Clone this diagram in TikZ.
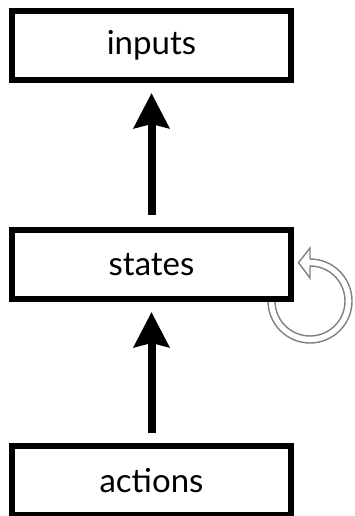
\documentclass[tikz,border=0pt]{standalone}
\usepackage{fontspec}
\setmainfont{Lato}
\usetikzlibrary{arrows.meta,calc}

\tikzset{
  stagebox/.style={draw=black, line width=6pt, fill=white, inner sep=0pt,
    minimum width=279pt, minimum height=69pt, font=\fontsize{33}{38}\selectfont},
  flowarrow/.style={line width=8pt,
    -{Stealth[length=35pt, width=35pt, inset=4pt]}},
  loopoutline/.style={draw=black!50, line width=1.4pt, fill=white, line join=miter}
}

\begin{document}
\begin{tikzpicture}[x=1pt, y=1pt]
  \useasboundingbox (0,0) rectangle (354,516);

  % stage boxes (positions only; the self-loop sits beneath the middle box)
  \coordinate (statesc) at (151.5,251.5);
  \coordinate (loopc) at ($(statesc)+(158.5,-36.5)$);

  % hollow circular self-loop arrow on the right of "states"
  \path[loopoutline]
    ([shift={(loopc)}]180:42) arc[start angle=180, end angle=450, radius=42]
    -- ([shift={(loopc)}]90:53)
    -- ([shift={(loopc)}]106.7:40)
    -- ([shift={(loopc)}]90:23)
    -- ([shift={(loopc)}]90:35)
    arc[start angle=90, end angle=-180, radius=35]
    -- cycle;

  \node[stagebox] (inputs)  at (151.5,470.5) {inputs};
  \node[stagebox] (states)  at (statesc)     {states};
  \node[stagebox] (actions) at (151.5,35.5)  {actions};

  % upward flow arrows between the stages
  \draw[flowarrow, shorten <=12pt, shorten >=10pt] (states.north) -- (inputs.south);
  \draw[flowarrow, shorten <=10pt, shorten >=10pt] (actions.north) -- (states.south);
\end{tikzpicture}
\end{document}
